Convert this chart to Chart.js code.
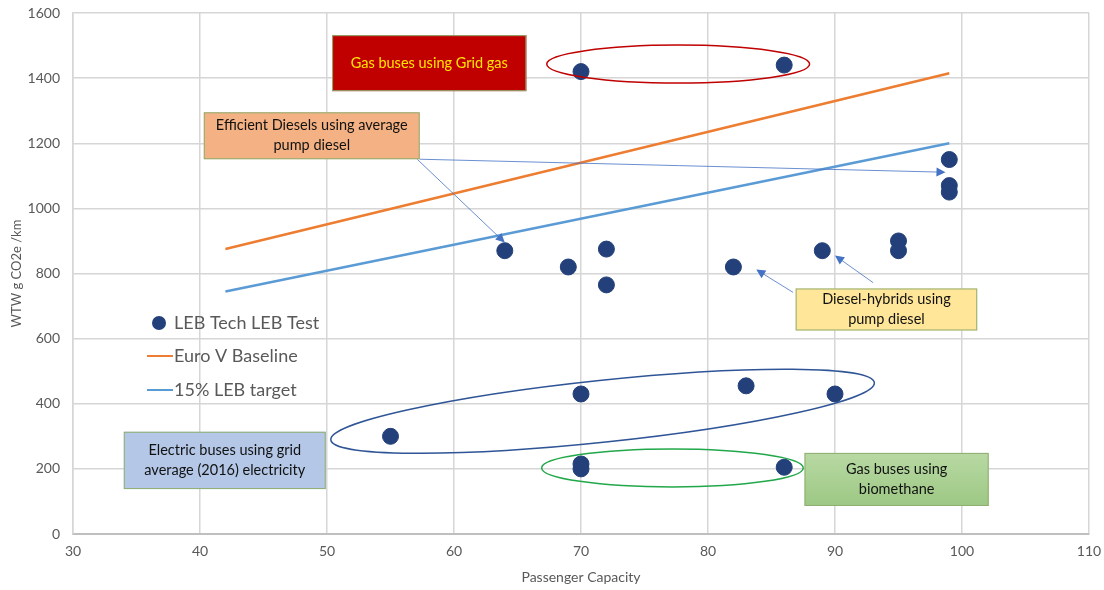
<!DOCTYPE html>
<html>
<head>
<meta charset="utf-8">
<script src="https://cdn.jsdelivr.net/npm/chart.js@4.4.1/dist/chart.umd.min.js"></script>
<style>
  html, body { margin: 0; padding: 0; background: #fff; }
</style>
</head>
<body>
<canvas id="busChart" width="1104" height="590"></canvas>
<script>
// test results (passenger capacity vs WTW g CO2e/km)
const capacity = [70, 86, 99, 99, 99, 64, 69, 72, 72, 82, 89, 95, 95, 55, 70, 83, 90, 70, 70, 86];
const emissions = [1420, 1440, 1150, 1070, 1050, 870, 820, 875, 765, 820, 870, 900, 870, 300, 430, 455, 430, 215, 200, 205];

// baseline / target lines
const lineCapacity = [42, 99];
const euroBaseline = [875, 1415];
const lebTarget = [745, 1200];

const seriesNames = ['LEB Tech LEB Test', 'Euro V Baseline', '15% LEB target'];

// callout boxes, in data units: [x1, y1, x2, y2]
const boxes = [
  { rect: [50.4, 1532, 65.7, 1360], fill: '#C00000', color: '#FFE600', lines: ['Gas buses using Grid gas'] },
  { rect: [40.3, 1295, 57.3, 1151], fill: '#F4B183', color: '#111', lines: ['Efficient Diesels using average', 'pump diesel'] },
  { rect: [34.0, 314, 49.9, 138], fill: '#B4C7E7', color: '#111', lines: ['Electric buses using grid', 'average (2016) electricity'] },
  { rect: [87.6, 249, 102.1, 86], fill: ['#B8D9A3', '#9DC884'], color: '#111', lines: ['Gas buses using', 'biomethane'] },
  { rect: [86.9, 754, 101.2, 625], fill: '#FFE699', color: '#111', lines: ['Diesel-hybrids using', 'pump diesel'] }
];

// ellipses: two end points along the long axis + half thickness (px)
const rings = [
  { from: [67.3, 1443], to: [88.0, 1443], half: 19, color: '#C00000' },
  { from: [50.3, 289], to: [93.1, 465], half: 31, color: '#2F5597' },
  { from: [66.9, 203], to: [87.5, 203], half: 19, color: '#22A84A' }
];

const arrows = [
  [57.1, 1151, 64.0, 895],
  [57.3, 1151, 98.7, 1111],
  [86.7, 742, 83.8, 812],
  [93.0, 772, 90.0, 855]
];

const dotColor = '#24407A';
const orange = '#ED7D31';
const blue = '#5B9BD5';
const textGrey = '#595959';
const font = 'Lato, "Open Sans", sans-serif';

const notes = {
  id: 'notes',
  afterDatasetsDraw(chart) {
    const ctx = chart.ctx;
    const xs = chart.scales.x, ys = chart.scales.y;
    const px = v => xs.getPixelForValue(v);
    const py = v => ys.getPixelForValue(v);
    ctx.save();

    rings.forEach(r => {
      const x1 = px(r.from[0]), y1 = py(r.from[1]);
      const x2 = px(r.to[0]), y2 = py(r.to[1]);
      ctx.beginPath();
      ctx.ellipse((x1 + x2) / 2, (y1 + y2) / 2, Math.hypot(x2 - x1, y2 - y1) / 2, r.half, Math.atan2(y2 - y1, x2 - x1), 0, Math.PI * 2);
      ctx.strokeStyle = r.color;
      ctx.lineWidth = 1.5;
      ctx.stroke();
    });

    ctx.strokeStyle = '#4472C4';
    ctx.fillStyle = '#4472C4';
    arrows.forEach(a => {
      const x1 = px(a[0]), y1 = py(a[1]), x2 = px(a[2]), y2 = py(a[3]);
      const ang = Math.atan2(y2 - y1, x2 - x1);
      ctx.lineWidth = 0.8;
      ctx.beginPath();
      ctx.moveTo(x1, y1);
      ctx.lineTo(x2 - 8 * Math.cos(ang), y2 - 8 * Math.sin(ang));
      ctx.stroke();
      ctx.beginPath();
      ctx.moveTo(x2, y2);
      ctx.lineTo(x2 - 9 * Math.cos(ang) + 4.5 * Math.sin(ang), y2 - 9 * Math.sin(ang) - 4.5 * Math.cos(ang));
      ctx.lineTo(x2 - 9 * Math.cos(ang) - 4.5 * Math.sin(ang), y2 - 9 * Math.sin(ang) + 4.5 * Math.cos(ang));
      ctx.closePath();
      ctx.fill();
    });

    boxes.forEach(b => {
      const x1 = px(b.rect[0]), y1 = py(b.rect[1]);
      const x2 = px(b.rect[2]), y2 = py(b.rect[3]);
      if (Array.isArray(b.fill)) {
        const g = ctx.createLinearGradient(0, y1, 0, y2);
        g.addColorStop(0, b.fill[0]);
        g.addColorStop(1, b.fill[1]);
        ctx.fillStyle = g;
      } else {
        ctx.fillStyle = b.fill;
      }
      ctx.fillRect(x1, y1, x2 - x1, y2 - y1);
      ctx.strokeStyle = '#8FAE72';
      ctx.lineWidth = 1;
      ctx.strokeRect(x1 + 0.5, y1 + 0.5, x2 - x1 - 1, y2 - y1 - 1);
      ctx.fillStyle = b.color;
      ctx.font = '14.5px ' + font;
      ctx.textAlign = 'center';
      ctx.textBaseline = 'middle';
      const mid = (y1 + y2) / 2;
      b.lines.forEach((t, i) => {
        ctx.fillText(t, (x1 + x2) / 2, mid + (i - (b.lines.length - 1) / 2) * 20);
      });
    });

    // legend inside the plot area
    const lx = chart.chartArea.left + 74, ly = chart.chartArea.top + 310;
    ctx.font = '18px ' + font;
    ctx.textAlign = 'left';
    ctx.textBaseline = 'middle';
    ctx.fillStyle = dotColor;
    ctx.beginPath();
    ctx.arc(lx + 12, ly, 7, 0, Math.PI * 2);
    ctx.fill();
    ctx.fillStyle = textGrey;
    ctx.fillText(seriesNames[0], lx + 27, ly);
    [orange, blue].forEach((c, i) => {
      const yy = ly + 33 + i * 34;
      ctx.strokeStyle = c;
      ctx.lineWidth = 2;
      ctx.beginPath();
      ctx.moveTo(lx, yy);
      ctx.lineTo(lx + 26, yy);
      ctx.stroke();
      ctx.fillText(seriesNames[i + 1], lx + 27, yy);
    });
    ctx.restore();
  }
};

const config = {
  type: 'scatter',
  data: {
    datasets: [
      {
        label: seriesNames[0],
        data: capacity.map((c, i) => ({ x: c, y: emissions[i] })),
        backgroundColor: dotColor,
        borderColor: dotColor,
        pointRadius: 8
      },
      {
        label: seriesNames[1],
        data: lineCapacity.map((c, i) => ({ x: c, y: euroBaseline[i] })),
        showLine: true,
        borderColor: orange,
        borderWidth: 2.5,
        pointRadius: 0
      },
      {
        label: seriesNames[2],
        data: lineCapacity.map((c, i) => ({ x: c, y: lebTarget[i] })),
        showLine: true,
        borderColor: blue,
        borderWidth: 2.5,
        pointRadius: 0
      }
    ]
  },
  options: {
    responsive: false,
    animation: false,
    layout: { padding: { left: 0, right: 15, top: 13, bottom: 0 } },
    plugins: {
      legend: { display: false },
      tooltip: { enabled: false }
    },
    scales: {
      x: {
        min: 30,
        max: 110,
        ticks: { stepSize: 10, color: textGrey, font: { size: 14, family: font }, padding: 9 },
        grid: { color: '#d6d6d6', lineWidth: 1.5, drawTicks: false },
        border: { color: '#bfbfbf', width: 2 },
        title: { display: true, text: 'Passenger Capacity', color: textGrey, font: { size: 14, family: font }, padding: { top: 7 } },
        afterFit: s => { s.height = 56; s.paddingLeft = 0; s.paddingRight = 0; }
      },
      y: {
        min: 0,
        max: 1600,
        ticks: { stepSize: 200, color: textGrey, font: { size: 14, family: font }, padding: 13, callback: v => String(v) },
        grid: { color: '#d6d6d6', lineWidth: 1.5, drawTicks: false },
        border: { color: '#d6d6d6', width: 1.5 },
        title: { display: true, text: 'WTW g CO2e /km', color: textGrey, font: { size: 13, family: font }, padding: { top: 9, bottom: 0 } },
        afterFit: s => { s.width = 73; s.paddingTop = 0; s.paddingBottom = 0; }
      }
    }
  },
  plugins: [notes]
};

const busChart = new Chart(document.getElementById('busChart'), config);
</script>
</body>
</html>
